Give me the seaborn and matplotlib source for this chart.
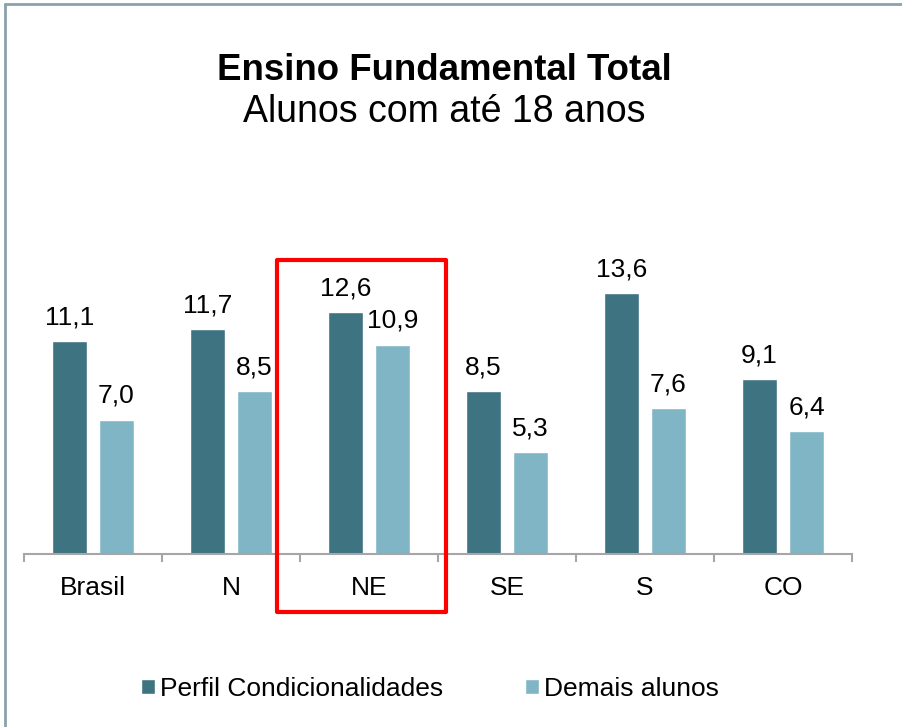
import matplotlib
matplotlib.use('Agg')
import matplotlib.pyplot as plt
import pandas as pd
import seaborn as sns
import numpy as np
from matplotlib.lines import Line2D
from matplotlib.patches import Rectangle

# Values
regioes = ['Brasil', 'N', 'NE', 'SE', 'S', 'CO']
perfil = [11.1, 11.7, 12.6, 8.5, 13.6, 9.1]
demais = [7.0, 8.5, 10.9, 5.3, 7.6, 6.4]
series = ['Perfil Condicionalidades', 'Demais alunos']
cores = ['#3E7382', '#7FB5C5']

df = pd.DataFrame({
    'regiao': regioes * 2,
    'grupo': [series[0]] * len(regioes) + [series[1]] * len(regioes),
    'valor': perfil + demais,
})

sns.set_style('white')
plt.rcParams['font.family'] = ['Liberation Sans', 'DejaVu Sans']
plt.rcParams['text.color'] = 'black'
plt.rcParams['xtick.labelcolor'] = 'black'

fig = plt.figure(figsize=(9.02, 7.27), dpi=100)
ax = fig.add_axes([24 / 902, 1 - 554 / 727, 828 / 902, 314 / 727])

sns.barplot(data=df, x='regiao', y='valor', hue='grupo', order=regioes,
            hue_order=series, palette=cores, width=0.68, gap=0.235,
            saturation=1, ax=ax)

# value labels with comma decimals
for cont in ax.containers:
    for bar in cont:
        h = bar.get_height()
        ax.annotate(f'{h:.1f}'.replace('.', ','),
                    (bar.get_x() + bar.get_width() / 2, h),
                    xytext=(0, 12), textcoords='offset points',
                    ha='center', va='baseline', fontsize=19, color='black')

ax.set_xlim(-0.5, len(regioes) - 0.5)
ax.set_ylim(0, 16.35)
ax.set_yticks([])
ax.set_xlabel('')
ax.set_ylabel('')
for s in ['top', 'left', 'right']:
    ax.spines[s].set_visible(False)
ax.spines['bottom'].set_color('#A6A6A6')
ax.spines['bottom'].set_linewidth(1.5)

# category separators drawn as minor ticks
ax.set_xticks(np.arange(-0.5, len(regioes), 1), minor=True)
ax.tick_params(axis='x', which='major', bottom=True, length=0, pad=16,
               labelsize=19, labelcolor='black')
ax.tick_params(axis='x', which='minor', bottom=True, length=6, width=1.5,
               color='#A6A6A6', direction='out')

sns.move_legend(ax, 'center', bbox_to_anchor=(430 / 902, 1 - 689 / 727),
                bbox_transform=fig.transFigure, ncol=2, frameon=False,
                title=None, fontsize=19, handlelength=0.53, handleheight=0.53,
                handletextpad=0.2, columnspacing=3.1)
for t in ax.get_legend().get_texts():
    t.set_color('black')

# titles
fig.text(0.493, 1 - 80 / 727, 'Ensino Fundamental Total', ha='center',
         va='baseline', fontsize=26.4, fontweight='bold', color='black')
fig.text(0.493, 1 - 122 / 727, 'Alunos com até 18 anos', ha='center',
         va='baseline', fontsize=27, color='black')

# highlight box around NE
fig.add_artist(Rectangle((277 / 902, 1 - 612 / 727), 169 / 902, 352 / 727,
                         transform=fig.transFigure, fill=False,
                         edgecolor='#FF0000', linewidth=3, joinstyle='round'))

# frame lines (left and top)
fig.add_artist(Line2D([5 / 902, 5 / 902], [0, 1 - 4 / 727],
                      transform=fig.transFigure, color='#8AA1AB', linewidth=2))
fig.add_artist(Line2D([5 / 902, 1], [1 - 4 / 727, 1 - 4 / 727],
                      transform=fig.transFigure, color='#8AA1AB', linewidth=2))

fig.savefig('out.png', dpi=100)
